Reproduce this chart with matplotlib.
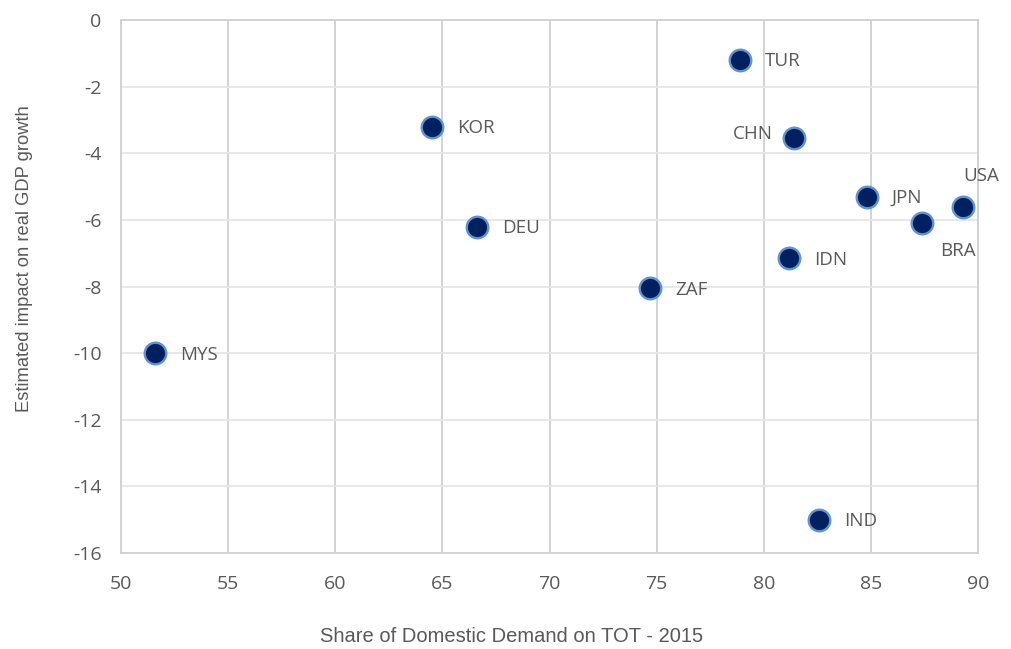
import matplotlib
matplotlib.use("Agg")
import matplotlib.pyplot as plt

# share of domestic demand on TOT (2015) vs estimated GDP impact
countries = ["MYS", "KOR", "DEU", "ZAF", "TUR", "CHN", "IDN", "IND", "JPN", "BRA", "USA"]
share     = [51.6, 64.5, 66.6, 74.7, 78.9, 81.4, 81.2, 82.6, 84.8, 87.4, 89.3]
impact    = [-10.0, -3.2, -6.2, -8.05, -1.2, -3.55, -7.15, -15.0, -5.3, -6.1, -5.6]

# label placement (offset points, alignment)
label_pos = {
    "CHN": ((-15, 3), "right", "center"),
    "USA": ((0, 22), "left", "center"),
    "BRA": ((13, -20), "left", "center"),
}
default_pos = ((18, -1), "left", "center")

grey = "#595959"
plt.rcParams["font.family"] = ["Open Sans", "DejaVu Sans"]
plt.rcParams["axes.unicode_minus"] = False

fig = plt.figure(figsize=(10.11, 6.49), dpi=100)
ax = fig.add_axes([0.1197, 0.1479, 0.8477, 0.8213])

ax.plot(share, impact, linestyle="none", marker="o", ms=15.5,
        markerfacecolor="#002060", markeredgecolor="#5f93d3", markeredgewidth=1.7, zorder=3)

for name, x, y in zip(countries, share, impact):
    off, ha, va = label_pos.get(name, default_pos)
    ax.annotate(name, (x, y), xytext=off, textcoords="offset points",
                ha=ha, va=va, fontsize=13.5, color=grey)

ax.set_xlim(50, 90)
ax.set_ylim(-16, 0)
ax.set_xticks(range(50, 91, 5))
ax.set_yticks(range(-16, 1, 2))

ax.grid(axis="x", color="#d0d0d0", linewidth=1.3)
ax.grid(axis="y", color="#e6e6e6", linewidth=1.3)
ax.set_axisbelow(True)
for s in ax.spines.values():
    s.set_color("#d0d0d0")
    s.set_linewidth(1.3)

ax.tick_params(length=0, labelsize=14, colors=grey)
ax.tick_params(axis="x", pad=16)
ax.tick_params(axis="y", pad=14)

fig.text(25 / 1011, 1 - 259 / 649, "Estimated impact on real GDP growth",
         ha="center", va="center", rotation=90, fontsize=13.2, color=grey,
         family="Liberation Sans")
fig.text(512 / 1011, 1 - 636 / 649, "Share of Domestic Demand on TOT - 2015",
         ha="center", va="center", fontsize=14.5, color=grey, family="Liberation Sans")

fig.savefig("out.png", dpi=100)
